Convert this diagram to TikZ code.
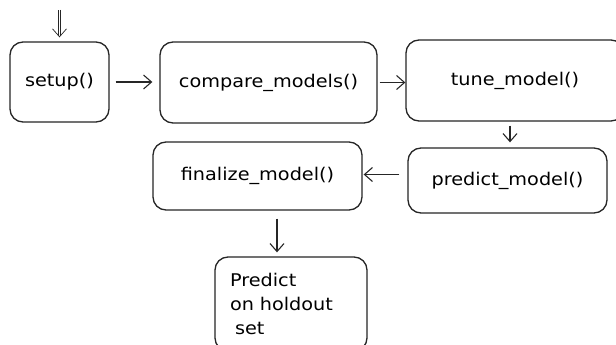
\documentclass[tikz,border=0pt]{standalone}
\usepackage{fontspec}
\setmainfont{DejaVu Sans}[FakeStretch=1.1]
\usetikzlibrary{arrows.meta}
\begin{document}
\begin{tikzpicture}[x=1pt,y=-1pt,
  box/.style={draw=black!85,rounded corners=13pt,line width=1.3pt,inner sep=4pt,
    font=\fontsize{17.5}{24}\selectfont},
  arr/.style={draw=black!85,-{Straight Barb[length=8pt,width=14pt]},line width=1.1pt}]
\useasboundingbox (0,0) rectangle (616,345);
\clip (0,0) rectangle (616,345);
\fill[white] (0,0) rectangle (616,345);
\node[box,minimum width=99pt,minimum height=80pt] (setup) at (59.5,82) {setup()};
\node[box,minimum width=217pt,minimum height=81pt] (compare) at (268.5,82.5) {compare\_models()};
\node[box,minimum width=218pt,minimum height=81pt] (tune) at (515,80.5) {tune\_model()};
\node[box,minimum width=199pt,minimum height=65pt] (predict) at (507.5,180.5) {predict\_model()};
\node[box,minimum width=209pt,minimum height=68pt] (fin) at (257.5,176) {finalize\_model()};
\node[box,minimum width=152pt,minimum height=94pt,inner xsep=15pt,text width=122pt,align=left] (hold) at (291,304)
  {Predict\\on holdout\\\hspace*{5pt}set};
\coordinate (start) at (59.5,10);
\draw[arr,double,double distance=1.6pt,line width=0.7pt,shorten >=4pt] (start) -- (setup.north);
\draw[arr,shorten <=6pt,shorten >=7pt] (setup.east) -- (setup.east -| compare.west);
\draw[arr,shorten <=2pt,shorten >=0pt] (compare.east) -- (compare.east -| tune.west);
\coordinate (ts) at ([xshift=-5pt]tune.south);
\draw[arr,shorten <=4pt,shorten >=5pt] (ts) -- (ts |- predict.north);
\coordinate (pw) at ([yshift=6pt]predict.west);
\draw[arr,shorten <=8pt,shorten >=1pt] (pw) -- (pw -| fin.east);
\coordinate (fs) at ([xshift=19.5pt]fin.south);
\draw[arr,shorten <=8pt,shorten >=4pt] (fs) -- (fs |- hold.north);
\end{tikzpicture}
\end{document}
